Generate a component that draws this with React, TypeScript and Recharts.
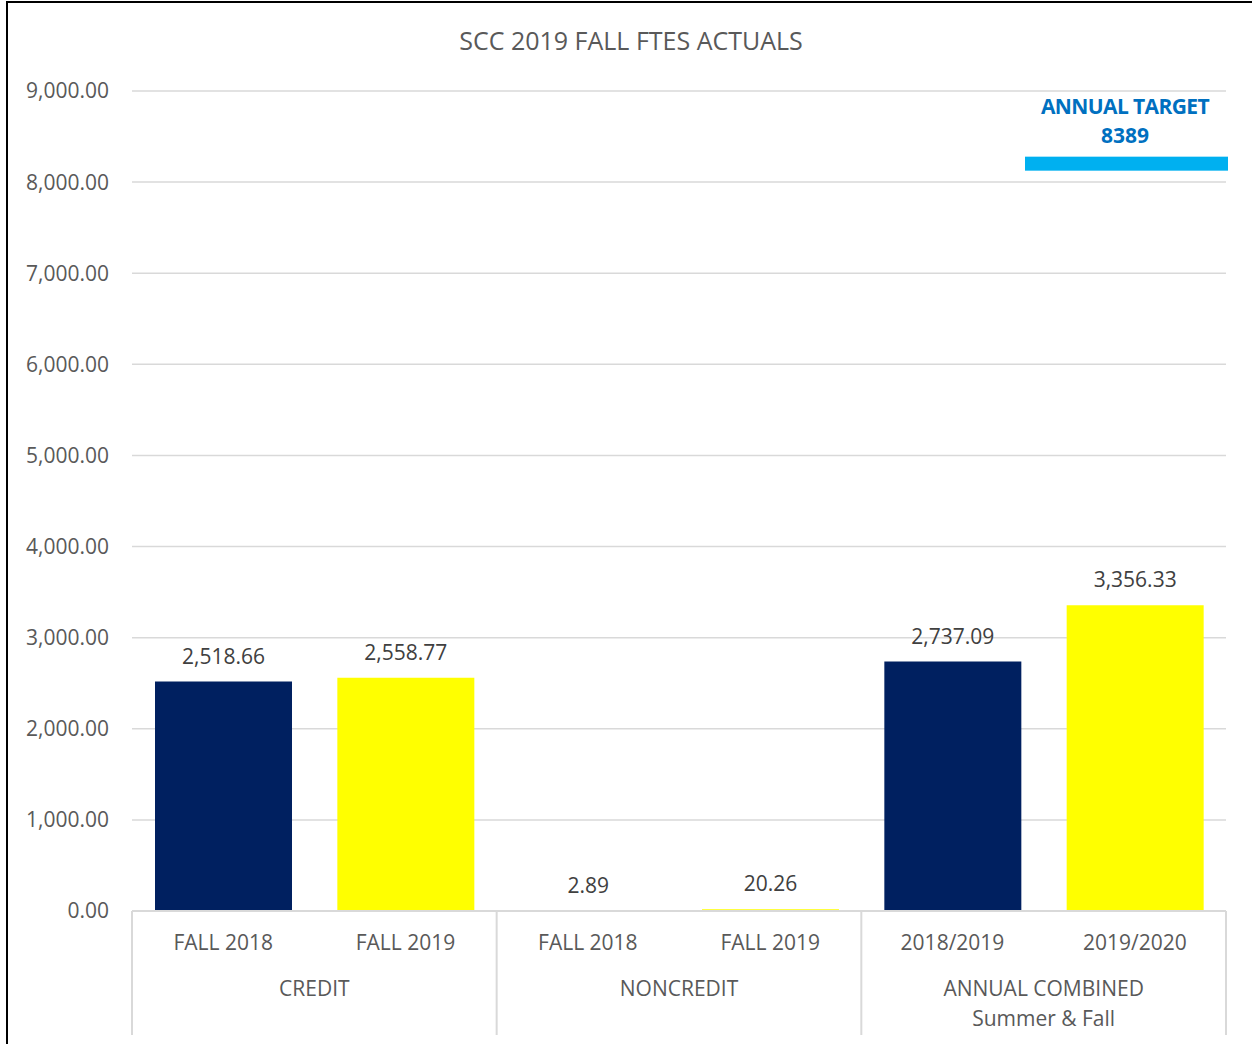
import React from 'react';
import { ComposedChart, Bar, XAxis, YAxis, CartesianGrid, Cell, LabelList, ReferenceLine } from 'recharts';

const categories = ['FALL 2018', 'FALL 2019', 'FALL 2018', 'FALL 2019', '2018/2019', '2019/2020'];
const groups = ['CREDIT', 'CREDIT', 'NONCREDIT', 'NONCREDIT', 'ANNUAL COMBINED|Summer & Fall', 'ANNUAL COMBINED|Summer & Fall'];
const values = [2518.66, 2558.77, 2.89, 20.26, 2737.09, 3356.33];
const yTicks = [0, 1000, 2000, 3000, 4000, 5000, 6000, 7000, 8000, 9000];
const TARGET = 8389;
const TITLE = 'SCC 2019 FALL FTES ACTUALS';

const NAVY = '#002060';
const YELLOW = '#FFFF00';
const FONT = '"Open Sans", sans-serif';

const data = categories.map((c, i) => ({ label: c, group: groups[i], value: values[i] }));

const fmt = (v: number) =>
  v.toLocaleString('en-US', { minimumFractionDigits: 2, maximumFractionDigits: 2 });

const XTick = (props: any) => {
  const { x, y, payload, index } = props;
  const half = payload && payload.offset ? payload.offset : 91.17;
  const lineLen = 124;
  const els: any[] = [];
  els.push(
    <text key="t" x={x} y={y + 39} textAnchor="middle" fontFamily={FONT} fontSize={21} fill="#595959">
      {payload.value}
    </text>
  );
  if (index % 2 === 0) {
    const g = groups[index].split('|');
    g.forEach((line, k) => {
      els.push(
        <text key={'g' + k} x={x + half} y={y + 85 + k * 30} textAnchor="middle" fontFamily={FONT} fontSize={21} fill="#595959">
          {line}
        </text>
      );
    });
    els.push(<line key="l" x1={x - half} x2={x - half} y1={y} y2={y + lineLen} stroke="#d9d9d9" strokeWidth={2} />);
  }
  if (index === categories.length - 1) {
    els.push(<line key="r" x1={x + half} x2={x + half} y1={y} y2={y + lineLen} stroke="#d9d9d9" strokeWidth={2} />);
  }
  return <g>{els}</g>;
};

const TargetShape = (props: any) => {
  const { x2, y1 } = props;
  const cx = x2 - 101;
  return (
    <g>
      <rect x={x2 - 201} y={y1 + 10} width={203} height={14} fill="#00B0F0" />
      <text x={cx} y={y1 - 33} textAnchor="middle" fontFamily={FONT} fontWeight={700} fontSize={21} fill="#0070C0" letterSpacing={-0.6}>
        ANNUAL TARGET
      </text>
      <text x={cx} y={y1 - 4} textAnchor="middle" fontFamily={FONT} fontWeight={700} fontSize={21} fill="#0070C0">
        {String(TARGET)}
      </text>
    </g>
  );
};

export default function App() {
  return (
    <div style={{ position: 'absolute', left: 0, top: 0, width: 1252, height: 1044, background: '#fff', overflow: 'hidden' }}>
      <div style={{ position: 'absolute', left: 6, top: 1, width: 1300, height: 1100, borderLeft: '2px solid #000', borderTop: '2px solid #000' }} />
      <div style={{ position: 'absolute', left: 0, top: 23, width: 1262, textAlign: 'center', fontFamily: FONT, fontSize: 25, color: '#595959' }}>
        {TITLE}
      </div>
      <div style={{ position: 'absolute', left: 0, top: 0 }}>
        <ComposedChart width={1252} height={1044} data={data} margin={{ top: 91, right: 26, left: 0, bottom: 0 }}>
          <CartesianGrid vertical={false} stroke="#d9d9d9" strokeWidth={1.5} />
          <YAxis
            domain={[0, 9000]}
            ticks={yTicks}
            width={132}
            axisLine={false}
            tickLine={false}
            tickSize={0}
            tickMargin={23}
            tickFormatter={(v: number) => fmt(v)}
            tick={{ fontFamily: FONT, fontSize: 21, fill: '#595959' }}
            interval={0}
          />
          <XAxis
            dataKey="label"
            height={133}
            interval={0}
            tickLine={false}
            tickSize={0}
            tickMargin={0}
            axisLine={{ stroke: '#d9d9d9', strokeWidth: 2 }}
            tick={<XTick />}
          />
          <Bar dataKey="value" barSize={137} isAnimationActive={false}>
            {data.map((d, i) => (
              <Cell key={i} fill={i % 2 === 0 ? NAVY : YELLOW} />
            ))}
            <LabelList
              dataKey="value"
              position="top"
              offset={18}
              formatter={(v: any) => fmt(Number(v))}
              style={{ fontFamily: FONT, fontSize: 21, fill: '#404040' }}
            />
          </Bar>
          <ReferenceLine y={TARGET} ifOverflow="visible" shape={<TargetShape />} />
        </ComposedChart>
      </div>
    </div>
  );
}
